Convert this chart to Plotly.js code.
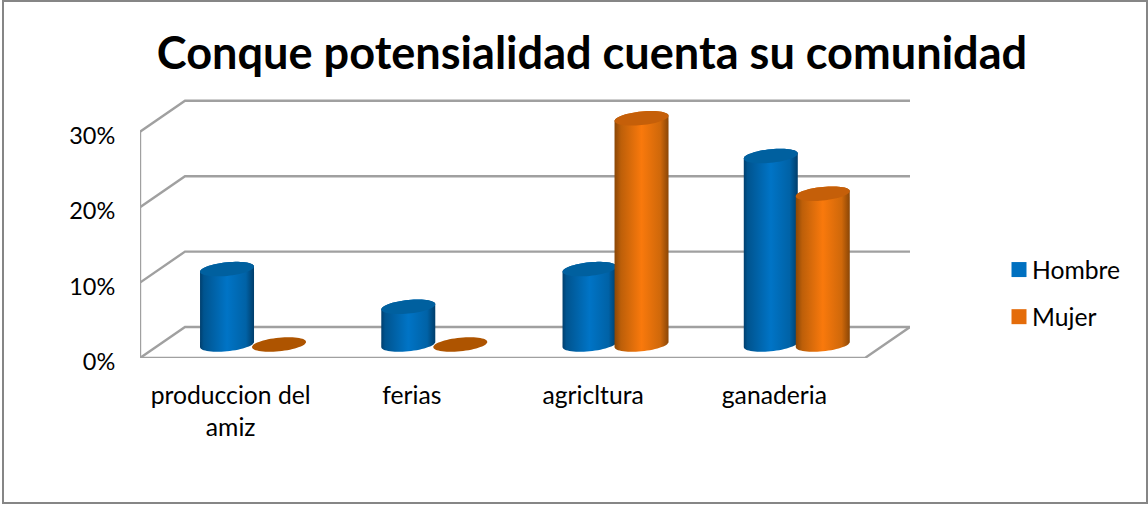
<!DOCTYPE html>
<html>
<head>
<meta charset="utf-8">
<script src="https://cdn.plot.ly/plotly-3.0.1.min.js"></script>
<style>
html,body{margin:0;padding:0;background:#fff;overflow:hidden}
#chart{position:absolute;left:0;top:0;width:1148px;height:505px}
#frame{position:absolute;left:2px;top:0;width:1142px;height:500px;border:2px solid #868686;border-width:2px 2px 2.5px 2px;pointer-events:none}
</style>
</head>
<body>
<div id="chart"></div>
<div id="frame"></div>
<script>
const categories = ['produccion del<br>amiz', 'ferias', 'agricltura', 'ganaderia'];
const hombre = [0.10, 0.05, 0.10, 0.25];
const mujer = [0, 0, 0.30, 0.20];
const yTicks = [0, 0.1, 0.2, 0.3];
const titleText = 'Conque potensialidad cuenta su comunidad';

const FONT = 'Lato, Carlito, Calibri, sans-serif';
const PX_X = 181.25, PX_Y = 754;              // pixels per data unit
const plotL = 140, plotR = 910, plotB = 358, plotT = 95;
const x0 = -0.5, xEnd = x0 + (plotR - plotL) / PX_X;
const depthX = 45 / PX_X, depthY = 31 / PX_Y; // oblique depth of the floor
const midX = 22.4 / PX_X, midY = 13.5 / PX_Y; // cylinders stand mid-depth
const barOff = 26 / PX_X;
const A = 27, B = 6.8, S = 2.6;               // ellipse in pixels

function ell(cx, cv, t) {
  return [cx + A * Math.cos(t) / PX_X, cv - (B * Math.sin(t) - S * Math.cos(t)) / PX_Y];
}
function arc(cx, cv, from, to, n) {
  const out = [];
  for (let i = 0; i <= n; i++) out.push(ell(cx, cv, from + (to - from) * i / n));
  return out;
}
function frameTrace() {
  const xs = [], ys = [];
  yTicks.forEach(v => {
    xs.push(x0, x0 + depthX, xEnd, null);
    ys.push(v, v + depthY, v + depthY, null);
  });
  xs.push(x0, x0, null, x0, xEnd - depthX, xEnd);
  ys.push(0, yTicks[yTicks.length - 1], null, 0, 0, depthY);
  return {x: xs, y: ys, mode: 'lines', line: {color: '#a0a0a0', width: 2.4}, showlegend: false, hoverinfo: 'skip'};
}
function cylinder(i, v, off, scale, capColor, flatColor) {
  const cx = i + midX + off, top = v + midY, base = midY;
  const out = [];
  if (v > 0) {
    const pts = arc(cx, top, Math.PI, 2 * Math.PI, 30).concat(arc(cx, base, 0, Math.PI, 30));
    pts.push(pts[0]);
    out.push({x: pts.map(p => p[0]), y: pts.map(p => p[1]), mode: 'none', fill: 'toself',
      fillgradient: {type: 'horizontal', colorscale: scale}, showlegend: false, hoverinfo: 'skip'});
  }
  const cap = arc(cx, top, 0, 2 * Math.PI, 60);
  out.push({x: cap.map(p => p[0]), y: cap.map(p => p[1]), mode: 'none', fill: 'toself',
    fillcolor: v > 0 ? capColor : flatColor, showlegend: false, hoverinfo: 'skip'});
  return out;
}
const blueScale = [[0, '#003f6e'], [0.07, '#00548f'], [0.5, '#0074c6'], [0.85, '#0062a6'], [1, '#003d6a']];
const orangeScale = [[0, '#8a4606'], [0.12, '#bd5f09'], [0.5, '#f9790c'], [0.85, '#cf680a'], [1, '#8a4606']];

const traces = [frameTrace()];
categories.forEach((c, i) => {
  traces.push(...cylinder(i, hombre[i], -barOff, blueScale, '#00609f', '#00548f'));
  traces.push(...cylinder(i, mujer[i], barOff, orangeScale, '#c55f09', '#ae5400'));
});
traces.push({x: [null], y: [null], name: 'Hombre', legendgroup: 'h', mode: 'markers',
  marker: {symbol: 'square', size: 15, color: '#0070C0'}});
traces.push({x: [null], y: [null], name: 'Mujer', legendgroup: 'm', mode: 'markers',
  marker: {symbol: 'square', size: 15, color: '#E46C0A'}});

const layout = {
  width: 1148, height: 505,
  margin: {l: plotL, r: 1148 - plotR, t: plotT, b: 505 - plotB, pad: 0},
  paper_bgcolor: '#fff', plot_bgcolor: 'rgba(0,0,0,0)',
  font: {family: FONT, size: 24.7, color: '#000'},
  title: {text: '<b>' + titleText + '</b>', font: {family: FONT, size: 45.1, color: '#000'},
    x: 592 / 1148, xref: 'container', xanchor: 'center', y: 1 - 53 / 505, yref: 'container', yanchor: 'middle'},
  xaxis: {range: [x0, xEnd], tickmode: 'array', tickvals: categories.map((c, i) => i), ticktext: categories,
    showgrid: false, zeroline: false, showline: false, ticks: 'outside', ticklen: 15, tickcolor: 'rgba(0,0,0,0)', tickangle: 0},
  yaxis: {range: [0, (plotB - plotT) / PX_Y], tickmode: 'array', tickvals: yTicks, tickformat: '.0%',
    tickfont: {family: FONT, size: 23.5}, ticklabelshift: 4,
    showgrid: false, zeroline: false, showline: false, ticks: 'outside', ticklen: 19, tickcolor: 'rgba(0,0,0,0)'},
  legend: {x: (992 - plotL) / (plotR - plotL), y: 1 - (247 - plotT) / (plotB - plotT), xanchor: 'left', yanchor: 'top',
    tracegroupgap: 12, itemsizing: 'trace', font: {family: FONT, size: 24.7}, bgcolor: 'rgba(0,0,0,0)'},
  hovermode: false, showlegend: true
};
Plotly.newPlot('chart', traces, layout, {displayModeBar: false, staticPlot: true}).then(() => {
  document.querySelectorAll('#chart .legend .legendpoints').forEach(g => g.setAttribute('transform', 'translate(7,0)'));
});
</script>
</body>
</html>
